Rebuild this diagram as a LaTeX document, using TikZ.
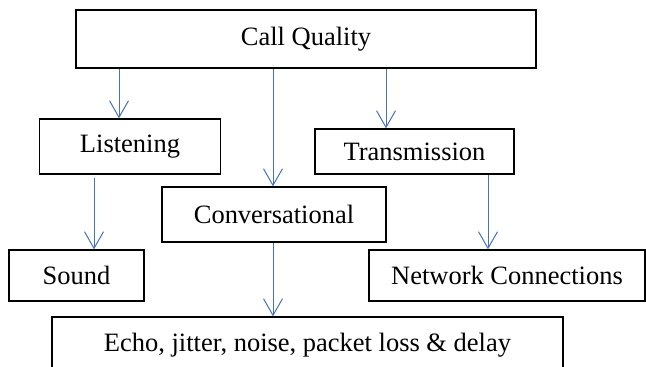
\documentclass[tikz,border=0pt]{standalone}
\usepackage{fontspec}
\setmainfont{Liberation Serif}
\usetikzlibrary{arrows.meta}
\definecolor{linkblue}{HTML}{4472C4}

\begin{document}
\begin{tikzpicture}[
    x=0.03cm, y=-0.03cm,
    level/.style={
      draw,
      line width=1.1pt,
      inner sep=0pt,
      align=center,
      font=\fontsize{22.6}{26}\selectfont
    },
    top/.style={
      level,
      line width=1.7pt
    },
    link/.style={
      draw=linkblue,
      line width=0.85pt,
      -{Straight Barb[length=0.5cm, width=0.57cm, line width=0.85pt]}
    }
  ]
    \useasboundingbox (0,0) rectangle (646,367);

    \node[top, minimum width=13.8cm, minimum height=1.74cm] (quality) at (306,39) {Call Quality};
    \node[level, minimum width=5.45cm, minimum height=1.65cm] (listening) at (130,146.5) {Listening};
    \node[level, minimum width=5.97cm, minimum height=1.35cm] (transmission) at (414.5,151.5) {Transmission};
    \node[level, minimum width=6.72cm, minimum height=1.65cm] (conversational) at (274,214.5) {Conversational};
    \node[level, minimum width=4.05cm, minimum height=1.53cm] (sound) at (76.5,275.5) {Sound};
    \node[level, minimum width=8.28cm, minimum height=1.53cm] (network) at (507,275.5) {Network Connections};
    \node[level, minimum width=15.33cm, minimum height=1.68cm] (echo) at (307.5,345) {Echo, jitter, noise, packet loss \& delay};

    % x positions of the arrows
    \coordinate (xl) at (119,0);
    \coordinate (xc) at (273,0);
    \coordinate (xt) at (386,0);
    \coordinate (xs) at (94,0);
    \coordinate (xn) at (488,0);

    \path
      (xl |- quality.south) edge[link] (xl |- listening.north)
      (xc |- quality.south) edge[link] (xc |- conversational.north)
      (xt |- quality.south) edge[link] (xt |- transmission.north)
      (xs |- listening.south) edge[link, shorten <=3] (xs |- sound.north)
      (xc |- conversational.south) edge[link] (xc |- echo.north)
      (xn |- transmission.south) edge[link] (xn |- network.north);
  \end{tikzpicture}
\end{document}
